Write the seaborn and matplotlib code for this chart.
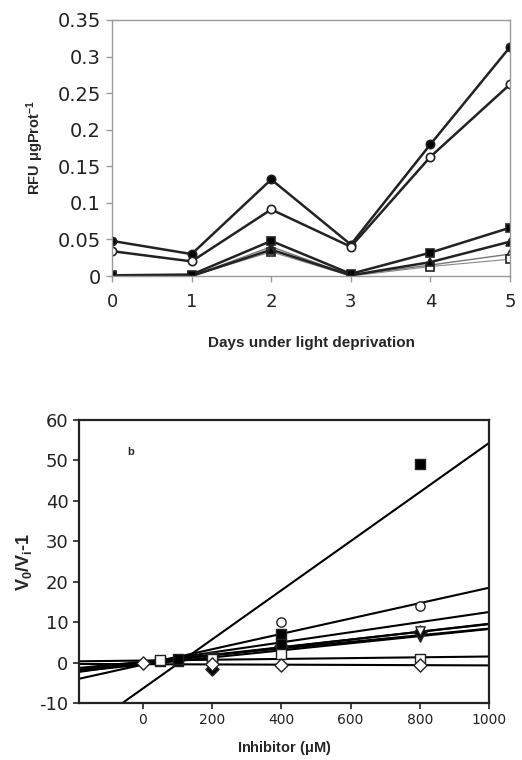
import numpy as np
import pandas as pd
import matplotlib
matplotlib.use('Agg')
import matplotlib.pyplot as plt
import seaborn as sns

# ---- panel a : fluorescence vs days ----
days = [0, 1, 2, 3, 4, 5]
rfu_filled_circle = [0.048, 0.030, 0.132, 0.043, 0.180, 0.313]
rfu_open_circle = [0.034, 0.020, 0.091, 0.040, 0.163, 0.262]
rfu_filled_square = [0.001, 0.002, 0.048, 0.003, 0.032, 0.066]
rfu_filled_triangle = [0.000, 0.000, 0.036, 0.001, 0.019, 0.047]
rfu_open_triangle = [0.000, 0.000, 0.040, 0.001, 0.015, 0.030]
rfu_open_square = [0.000, 0.000, 0.033, 0.000, 0.013, 0.023]
y_ticks_a = [0, 0.05, 0.1, 0.15, 0.2, 0.25, 0.3, 0.35]
y_ticklabels_a = ['0', '0.05', '0.1', '0.15', '0.2', '0.25', '0.3', '0.35']

# ---- panel b : inhibition plot ----
inh_sq_filled_x = [50, 100, 200, 400, 800]
inh_sq_filled_y = [0.3, 0.8, 1.2, 4.5, 49]
inh_circ_open_x = [200, 400, 800]
inh_circ_open_y = [0.5, 10, 14]
inh_sq_filled2_x = [100, 200, 400]
inh_sq_filled2_y = [0.5, 1.5, 7]
inh_tri_filled_x = [200, 400, 800]
inh_tri_filled_y = [0.5, 4, 6.3]
inh_dia_filled_x = [200, 400, 800]
inh_dia_filled_y = [-1.6, 4, 7.5]
inh_tri_open_x = [200, 800]
inh_tri_open_y = [0.2, 7.8]
inh_sq_open_x = [50, 200, 400, 800]
inh_sq_open_y = [0.6, 1.0, 2.0, 1.0]
inh_dia_open_x = [0, 200, 400, 800]
inh_dia_open_y = [0, -0.3, -0.7, -0.5]
y_ticks_b = [-10, 0, 10, 20, 30, 40, 50, 60]
y_ticklabels_b = ['-10', '0', '10', '20', '30', '40', '50', '60']
x_ticks_b = [0, 200, 400, 600, 800, 1000]

# fitted lines (slope, intercept)
fit_slopes = [0.0607, 0.019, 0.0125, 0.0098, 0.0095, 0.0088, 0.0082, 0.001, -0.0003]
fit_intercepts = [-6.4, -0.5, 0.0, -0.2, 0.0, -0.5, 0.2, 0.5, -0.4]
x_range_b = [-185, 1000]

sns.set_style('white')
plt.rcParams['font.family'] = ['Liberation Sans', 'DejaVu Sans']
plt.rcParams['mathtext.fontset'] = 'custom'
plt.rcParams['mathtext.rm'] = 'Liberation Sans:bold'
plt.rcParams['mathtext.it'] = 'Liberation Sans:bold'
plt.rcParams['mathtext.bf'] = 'Liberation Sans:bold'

fig = plt.figure(figsize=(5.22, 7.6), dpi=100)
ax1 = fig.add_axes([0.2146, 0.6368, 0.7624, 0.3369])
ax2 = fig.add_axes([0.1513, 0.075, 0.7855, 0.3724])

# panel a
series_a = [
    (rfu_filled_circle, 'o', 'black', '#222222', 1.8),
    (rfu_open_circle, 'o', 'white', '#222222', 1.8),
    (rfu_open_triangle, '^', 'white', '#777777', 1.0),
    (rfu_open_square, 's', 'white', '#888888', 0.8),
    (rfu_filled_triangle, '^', 'black', '#222222', 1.8),
    (rfu_filled_square, 's', 'black', '#222222', 1.8),
]
for vals, mk, fc, lc, lw in series_a:
    df = pd.DataFrame({'day': days, 'rfu': vals})
    sns.lineplot(data=df, x='day', y='rfu', ax=ax1, color=lc, lw=lw,
                 marker=mk, markersize=6, markerfacecolor=fc,
                 markeredgecolor='#222222', markeredgewidth=1.2)

ax1.set_xlim(0, 5)
ax1.set_ylim(0, 0.35)
ax1.set_xticks(days)
ax1.set_yticks(y_ticks_a)
ax1.set_yticklabels(y_ticklabels_a)
for s in ax1.spines.values():
    s.set_color('#999999')
    s.set_linewidth(1.0)
ax1.tick_params(axis='both', length=4, width=1, color='#999999', direction='out',
                colors='#222222', left=True, bottom=True, pad=4)
ax1.tick_params(axis='y', labelsize=14)
ax1.tick_params(axis='x', labelsize=13, pad=8)
ax1.set_xlabel('Days under light deprivation', fontsize=11, fontweight='bold',
               labelpad=18)
ax1.set_ylabel(r'RFU $\mu$gProt$^{-1}$', fontsize=10.5,
               fontweight='bold', labelpad=8)

# panel b
x_line = np.array(x_range_b)
for m, b in zip(fit_slopes, fit_intercepts):
    dl = pd.DataFrame({'x': x_line, 'y': m * x_line + b})
    sns.lineplot(data=dl, x='x', y='y', ax=ax2, color='black', lw=1.5)

series_b = [
    (inh_tri_filled_x, inh_tri_filled_y, 'v', 'black'),
    (inh_dia_filled_x, inh_dia_filled_y, 'D', 'black'),
    (inh_sq_filled2_x, inh_sq_filled2_y, 's', 'black'),
    (inh_sq_filled_x, inh_sq_filled_y, 's', 'black'),
    (inh_tri_open_x, inh_tri_open_y, 'v', 'white'),
    (inh_circ_open_x, inh_circ_open_y, 'o', 'white'),
    (inh_sq_open_x, inh_sq_open_y, 's', 'white'),
    (inh_dia_open_x, inh_dia_open_y, 'D', 'white'),
]
for xs, ys, mk, fc in series_b:
    dp = pd.DataFrame({'x': xs, 'y': ys})
    sns.scatterplot(data=dp, x='x', y='y', ax=ax2, marker=mk, color=fc,
                    edgecolor='#222222', linewidth=1.0, s=45, zorder=3)

ax2.set_xlim(-185, 1000)
ax2.set_ylim(-10, 60)
ax2.set_xticks(x_ticks_b)
ax2.set_yticks(y_ticks_b)
ax2.set_yticklabels(y_ticklabels_b)
for s in ax2.spines.values():
    s.set_color('#222222')
    s.set_linewidth(1.6)
ax2.tick_params(axis='both', length=4, width=1.2, color='#222222', direction='out',
                colors='#222222', left=True, bottom=True)
ax2.tick_params(axis='y', labelsize=13)
ax2.tick_params(axis='x', labelsize=10)
for lab in ax1.get_xticklabels() + ax1.get_yticklabels() + \
        ax2.get_xticklabels() + ax2.get_yticklabels():
    lab.set_family('DejaVu Sans')
ax2.text(-35, 52, 'b', fontsize=8, fontweight='bold', ha='center', va='center')
ax2.set_xlabel(r'Inhibitor ($\mu$M)', fontsize=10.5, fontweight='bold',
               labelpad=8)
ax2.set_ylabel(r'V$_0$/V$_i$-1', fontsize=13, fontweight='bold',
               labelpad=4)

fig.savefig('out.png', dpi=100)
